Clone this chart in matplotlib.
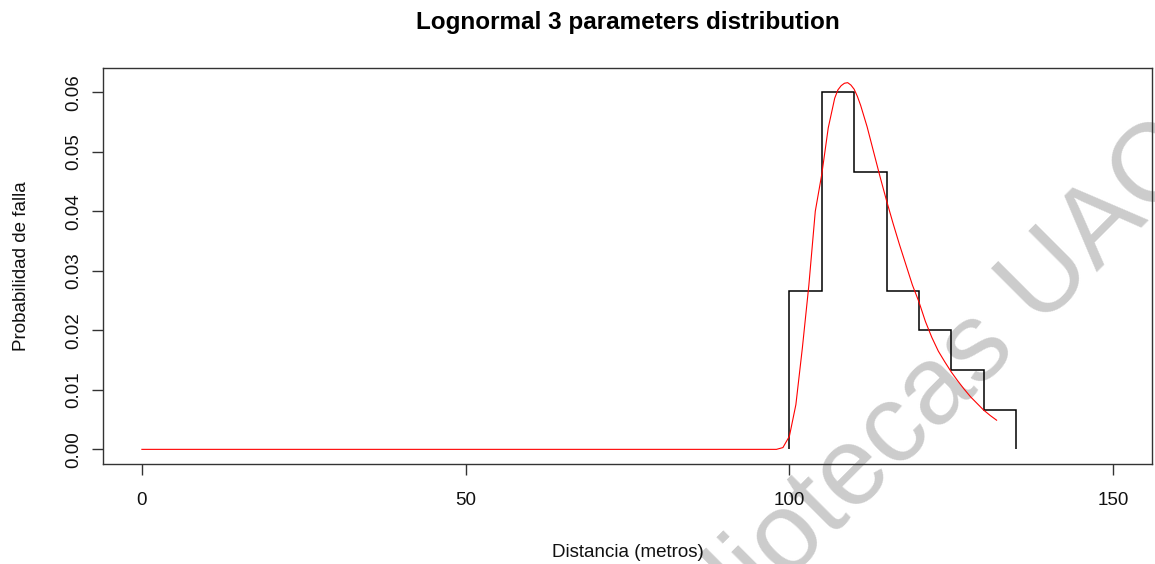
import matplotlib
matplotlib.use("Agg")
import matplotlib.pyplot as plt
import numpy as np

plt.rcParams['font.family'] = ['Liberation Sans', 'DejaVu Sans']

# histograma de fallas (clases de 5 m)
bin_edges = [100, 105, 110, 115, 120, 125, 130, 135]
counts = [4, 9, 7, 4, 3, 2, 1]
n_total = 30

# densidad lognormal de 3 parametros ajustada
curve_x = [0, 98, 99, 100, 101, 102, 103, 104, 105, 106, 107, 107.5, 108,
           108.5, 109, 109.5, 110, 110.5, 111, 112, 113, 114, 115, 116, 117,
           118, 119, 120, 121, 122, 123, 124, 125, 126, 127, 128, 129, 130,
           131, 132]
curve_y = [0.0, 0.0, 0.0003, 0.0022, 0.0075, 0.0170, 0.0275, 0.0400, 0.0462,
           0.0540, 0.0590, 0.0604, 0.0611, 0.0615, 0.0616, 0.0612, 0.0605,
           0.0593, 0.0578, 0.0542, 0.0500, 0.0458, 0.0418, 0.0380, 0.0344,
           0.0310, 0.0276, 0.0248, 0.0215, 0.0188, 0.0165, 0.0147, 0.0130,
           0.0115, 0.0101, 0.0088, 0.0077, 0.0066, 0.0057, 0.0049]

x_ticks = [0, 50, 100, 150]
y_ticks = [0.00, 0.01, 0.02, 0.03, 0.04, 0.05, 0.06]

widths = np.diff(bin_edges)
density = np.array(counts) / (n_total * widths)

fig = plt.figure(figsize=(11.55, 5.64), dpi=100)
ax = fig.add_axes([0.0892, 0.1773, 0.9082, 0.7021])
ax.patch.set_facecolor('none')
ax.set_zorder(2)

ax.stairs(density, bin_edges, baseline=0, fill=False, color='black', lw=1.1)
ax.plot(curve_x, curve_y, color='red', lw=0.8)

ax.set_xlim(-6, 156)
ax.set_ylim(-0.00246, 0.06406)
ax.set_xticks(x_ticks)
ax.set_xticklabels([str(v) for v in x_ticks])
ax.set_yticks(y_ticks)
ax.set_yticklabels(['%.2f' % v for v in y_ticks], rotation=90, va='center')

for s in ax.spines.values():
    s.set_color('#333333')
    s.set_linewidth(1.0)
ax.tick_params(axis='both', direction='out', length=8, width=1.0, color='#333333',
               labelsize=13.5, labelcolor='#111111')
ax.tick_params(axis='x', pad=12)
ax.tick_params(axis='y', pad=7)

ax.set_title('Lognormal 3 parameters distribution', fontsize=17.5,
             fontweight='bold', pad=28)
ax.set_xlabel('Distancia (metros)', fontsize=13.5, labelpad=25, color='#111111')
ax.set_ylabel('Probabilidad de falla', fontsize=13.5, labelpad=25, color='#111111')

# marca de agua
fig.text(0.781, 0.245, 'Bibliotecas UAC', fontsize=80, color='#cccccc',
         rotation=45, rotation_mode='anchor', ha='center', va='center', zorder=1)

fig.savefig('out.png', dpi=100)
